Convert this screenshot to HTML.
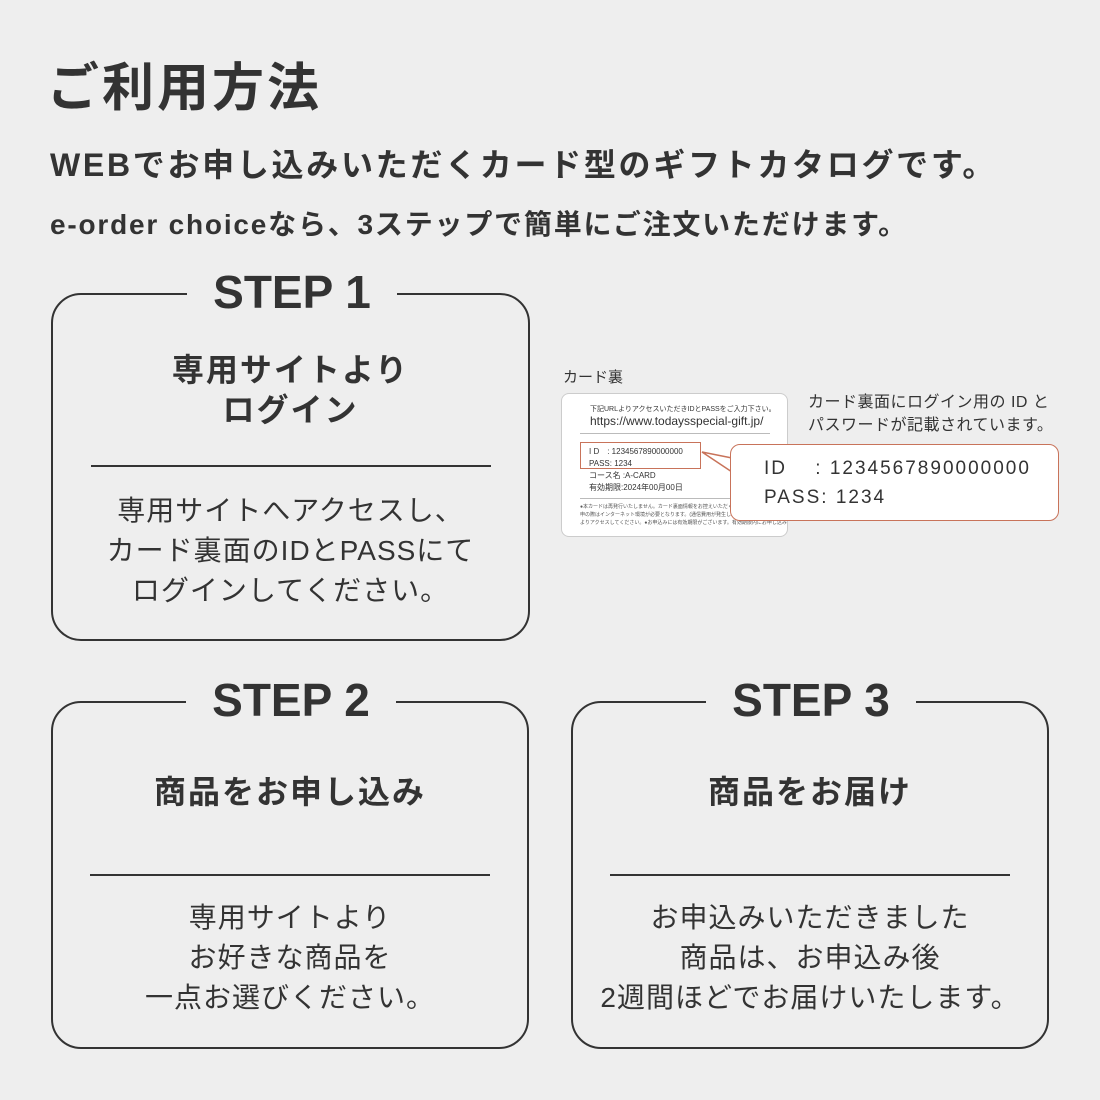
<!DOCTYPE html><html><head><meta charset="utf-8"><style>
body{margin:0;width:1100px;height:1100px;background:#eeeeee;position:relative;overflow:hidden;font-family:"Liberation Sans","Noto Sans CJK JP",sans-serif;color:#333}
.a{position:absolute;white-space:nowrap}
.box{position:absolute;border:2px solid #333;border-radius:30px;box-sizing:border-box}
.st{position:absolute;background:#eeeeee;font-size:46px;font-weight:bold;text-align:center;line-height:50px}
.sub{position:absolute;font-size:32px;font-weight:bold;text-align:center;line-height:40px;letter-spacing:2px}
.hr{position:absolute;height:2px;background:#333}
.body{position:absolute;font-size:28px;text-align:center;line-height:40px;letter-spacing:1px}
</style></head><body>
<div class="a" style="left:47px;top:46px;font-size:52px;font-weight:bold;letter-spacing:3px">ご利用方法</div>
<div class="a" style="left:50px;top:140px;font-size:32px;font-weight:bold;letter-spacing:2.7px">WEBでお申し込みいただくカード型のギフトカタログです。</div>
<div class="a" style="left:50px;top:203px;font-size:28px;font-weight:bold;letter-spacing:1.8px">e-order choiceなら、3ステップで簡単にご注文いただけます。</div>

<div class="box" style="left:51px;top:293px;width:479px;height:348px"></div>
<div class="st" style="left:187px;top:267px;width:210px">STEP 1</div>
<div class="sub" style="left:51px;top:350px;width:479px">専用サイトより<br>ログイン</div>
<div class="hr" style="left:91px;top:465px;width:400px"></div>
<div class="body" style="left:51px;top:491px;width:479px">専用サイトへアクセスし、<br>カード裏面のIDとPASSにて<br>ログインしてください。</div>

<div class="box" style="left:51px;top:701px;width:478px;height:348px"></div>
<div class="st" style="left:186px;top:675px;width:210px">STEP 2</div>
<div class="sub" style="left:51px;top:772px;width:478px">商品をお申し込み</div>
<div class="hr" style="left:90px;top:874px;width:400px"></div>
<div class="body" style="left:51px;top:898px;width:478px">専用サイトより<br>お好きな商品を<br>一点お選びください。</div>

<div class="box" style="left:571px;top:701px;width:478px;height:348px"></div>
<div class="st" style="left:706px;top:675px;width:210px">STEP 3</div>
<div class="sub" style="left:571px;top:772px;width:478px">商品をお届け</div>
<div class="hr" style="left:610px;top:874px;width:400px"></div>
<div class="body" style="left:571px;top:898px;width:478px">お申込みいただきました<br>商品は、お申込み後<br>2週間ほどでお届けいたします。</div>

<div class="a" style="left:563px;top:366px;font-size:15px">カード裏</div>
<div class="a" style="left:561px;top:393px;width:227px;height:144px;background:#fff;border:1px solid #ccc;border-radius:8px;box-sizing:border-box;overflow:hidden">
<div class="a" style="left:28px;top:10px;font-size:7px">下記URLよりアクセスいただきIDとPASSをご入力下さい。</div>
<div class="a" style="left:28px;top:20px;font-size:12px">https://www.todaysspecial-gift.jp/</div>
<div class="a" style="left:18px;top:39px;width:190px;height:1px;background:#bbb"></div>
<div class="a" style="left:18px;top:48px;width:121px;height:27px;border:1px solid #c8735a;box-sizing:border-box"></div>
<div class="a" style="left:27px;top:52px;font-size:8px;line-height:12px">I D　: 1234567890000000<br>PASS: 1234<br>コース名 :A-CARD<br>有効期限:2024年00月00日</div>
<div class="a" style="left:18px;top:104px;width:190px;height:1px;background:#bbb"></div>
<div class="a" style="left:18px;top:109px;font-size:5px;line-height:8px;color:#555">●本カードは再発行いたしません。カード裏面情報をお控えいただくことをお<br>申の際はインターネット環境が必要となります。(通信費用が発生します) ●パ<br>よりアクセスしてください。●お申込みには有効期限がございます。有効期限内にお申し込みください。</div>
</div>
<svg class="a" style="left:690px;top:440px" width="50" height="40"><path d="M42 18 L12 12 L42 32" fill="#fff" stroke="#c8735a" stroke-width="1.5"/></svg>
<div class="a" style="left:730px;top:444px;width:329px;height:77px;background:#fff;border:1.5px solid #c8735a;border-radius:10px;box-sizing:border-box"></div>
<div class="a" style="left:764px;top:454px;font-size:19px;line-height:29px;letter-spacing:2px">ID　 : 1234567890000000<br>PASS: 1234</div>
<div class="a" style="left:808px;top:391px;font-size:16px;line-height:23px;letter-spacing:0.5px">カード裏面にログイン用の ID と<br>パスワードが記載されています。</div>
</body></html>
